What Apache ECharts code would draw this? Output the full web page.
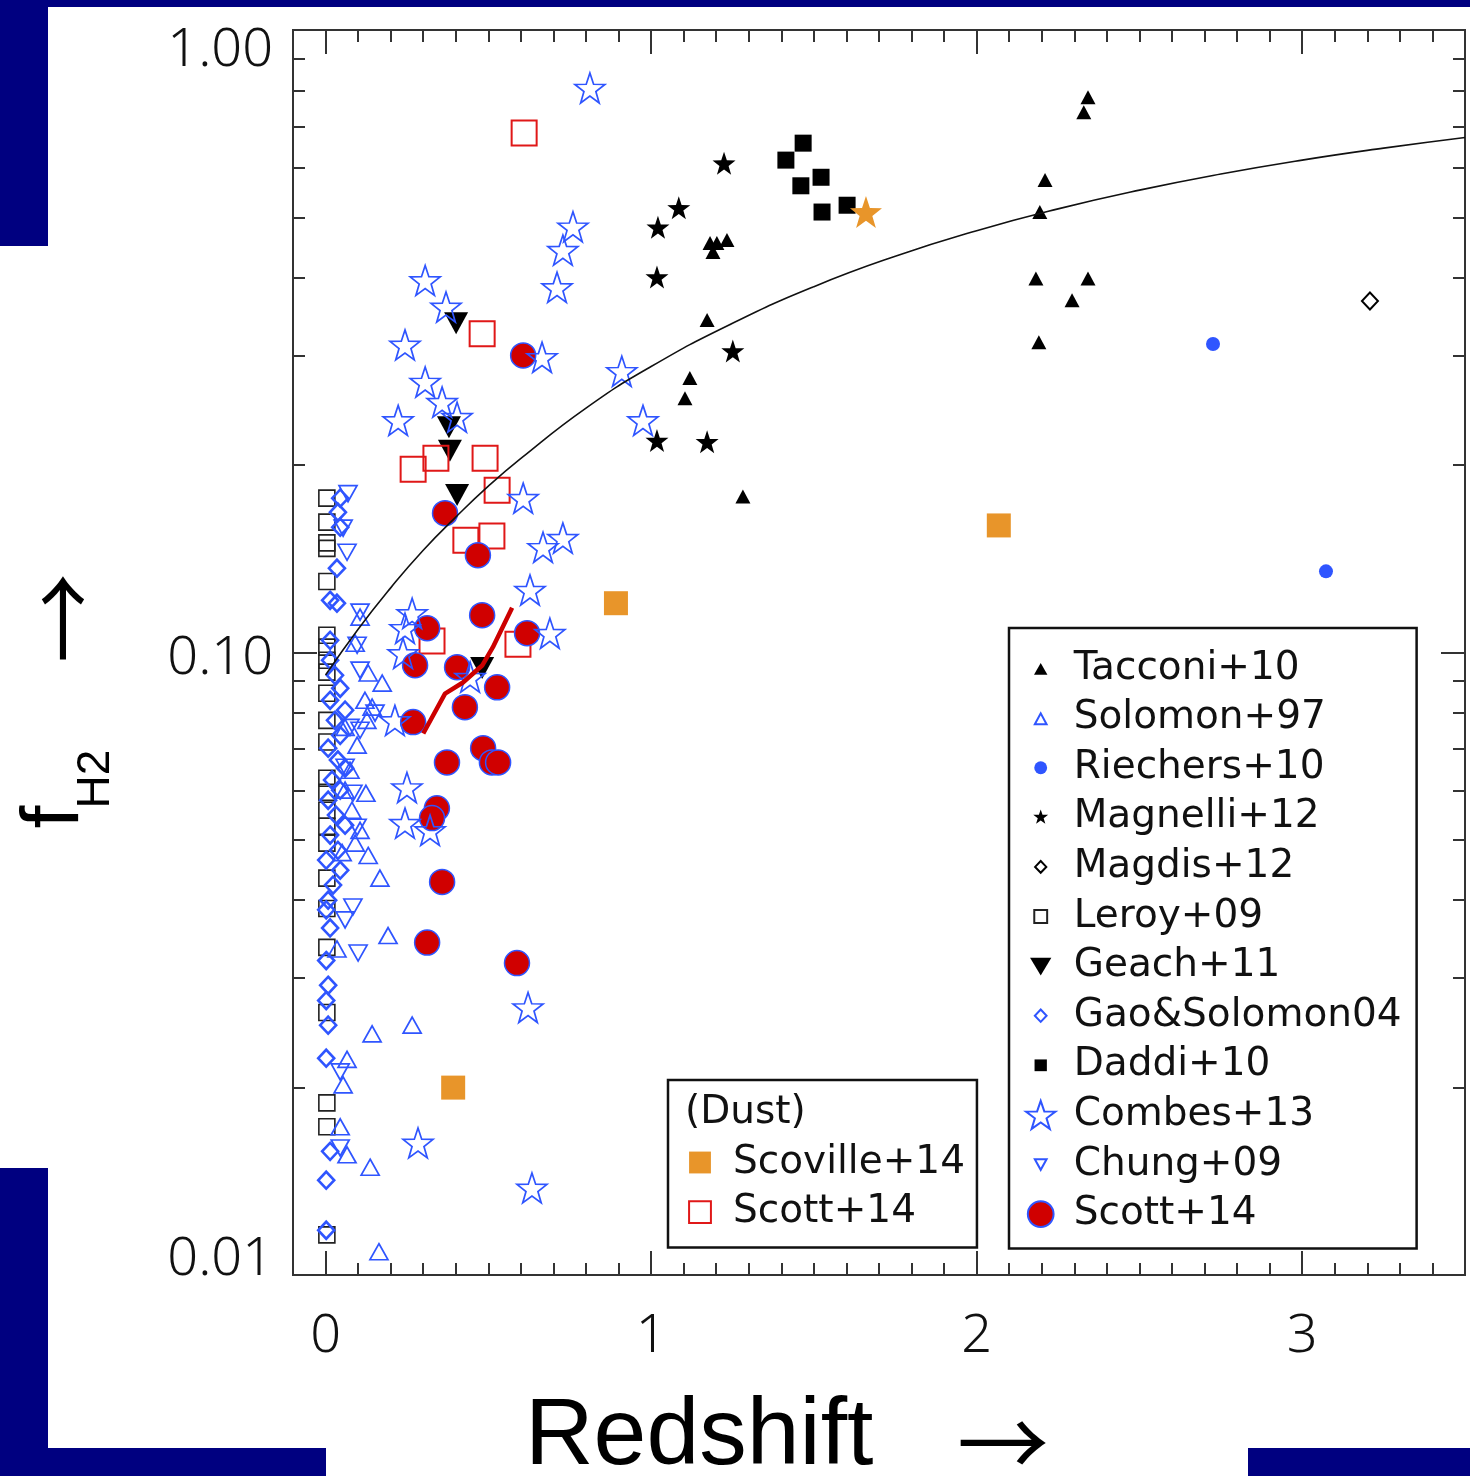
<!DOCTYPE html>
<html><head><meta charset="utf-8">
<script src="https://cdn.jsdelivr.net/npm/echarts@6/dist/echarts.min.js"></script>
<style>html,body{margin:0;padding:0;background:#fff}#c{width:1470px;height:1476px}</style>
</head><body><div id="c"></div>
<script>
// ---------------- DATA (redshift z, f_H2) ----------------
const tacconi = [[2.342,0.780],[2.329,0.738],[2.210,0.574],[2.194,0.510],[2.182,0.399],[2.342,0.399],[2.293,0.368],[2.191,0.315],[1.181,0.455],[1.202,0.455],[1.233,0.460],[1.190,0.440],[1.172,0.342],[1.119,0.276],[1.104,0.256],[1.282,0.178]];
const solomon = [[0.106,0.114],[0.091,0.1035],[0.131,0.0927],[0.174,0.0893],[0.121,0.0838],[0.143,0.0817],[0.127,0.0778],[0.060,0.0758],[0.097,0.0710],[0.075,0.0647],[0.060,0.0601],[0.124,0.0594],[0.081,0.0558],[0.106,0.0518],[0.091,0.0494],[0.051,0.0477],[0.131,0.0472],[0.167,0.0434],[0.192,0.0351],[0.035,0.0334],[0.266,0.0252],[0.143,0.0244],[0.066,0.0222],[0.054,0.0202],[0.045,0.0173],[0.066,0.0156],[0.137,0.0149],[0.164,0.0109]];
const riechers = [[2.726,0.313],[3.073,0.135]];
const magnelli = [[1.224,0.611],[1.085,0.518],[1.021,0.482],[1.018,0.401],[1.251,0.305],[1.018,0.219],[1.172,0.218]];
const magdis = [[3.208,0.367]];
const leroy = [[0.004,0.177],[0.004,0.162],[0.004,0.150],[0.004,0.147],[0.004,0.130],[0.004,0.1066],[0.004,0.102],[0.004,0.0972],[0.004,0.0930],[0.004,0.0860],[0.004,0.0778],[0.004,0.0718],[0.004,0.0628],[0.004,0.0596],[0.004,0.0558],[0.004,0.0526],[0.004,0.0494],[0.004,0.0434],[0.004,0.0388],[0.004,0.0336],[0.004,0.0264],[0.004,0.0189],[0.004,0.0173],[0.004,0.0116]];
const geach = [[0.401,0.338],[0.379,0.230],[0.382,0.211],[0.404,0.179],[0.481,0.0944]];
const gao = [[0.045,0.177],[0.038,0.168],[0.045,0.159],[0.035,0.1366],[0.014,0.1213],[0.035,0.120],[0.014,0.1046],[0.014,0.0972],[0.029,0.0919],[0.045,0.0876],[0.014,0.0838],[0.060,0.0808],[0.029,0.0778],[0.045,0.0736],[0.008,0.0702],[0.038,0.0672],[0.060,0.0652],[0.020,0.0624],[0.045,0.0601],[0.008,0.0579],[0.032,0.0548],[0.060,0.0528],[0.014,0.0509],[0.038,0.0481],[0.002,0.0464],[0.045,0.0447],[0.023,0.0423],[0.008,0.0400],[0.002,0.0386],[0.014,0.0361],[0.002,0.0320],[0.008,0.0292],[0.002,0.0276],[0.008,0.0252],[0.002,0.0223],[0.014,0.0158],[0.002,0.0142],[0.002,0.0118]];
const daddi = [[1.467,0.658],[1.414,0.618],[1.522,0.580],[1.460,0.562],[1.525,0.510],[1.602,0.523]];
const combes = [[0.812,0.807],[0.760,0.483],[0.729,0.443],[0.711,0.386],[0.306,0.396],[0.370,0.359],[0.244,0.312],[0.665,0.298],[0.306,0.272],[0.358,0.2525],[0.404,0.2388],[0.223,0.236],[0.910,0.283],[0.975,0.236],[0.607,0.177],[0.668,0.1476],[0.729,0.1527],[0.628,0.126],[0.689,0.1074],[0.266,0.1156],[0.244,0.1094],[0.238,0.0997],[0.444,0.0913],[0.213,0.0778],[0.250,0.0607],[0.244,0.0532],[0.321,0.0518],[0.622,0.0269],[0.284,0.0163],[0.634,0.0138]];
const chung = [[0.069,0.180],[0.054,0.1584],[0.066,0.1449],[0.106,0.1161],[0.097,0.1027],[0.106,0.0937],[0.152,0.0799],[0.075,0.0758],[0.106,0.0750],[0.060,0.0654],[0.084,0.0594],[0.097,0.0524],[0.084,0.0390],[0.060,0.0372],[0.100,0.0329],[0.045,0.0212],[0.045,0.0160]];
const scott = [[0.607,0.300],[0.367,0.1674],[0.468,0.1433],[0.481,0.1148],[0.312,0.1094],[0.619,0.1074],[0.275,0.0954],[0.404,0.0947],[0.527,0.0879],[0.428,0.0817],[0.269,0.0773],[0.484,0.0702],[0.373,0.0666],[0.511,0.0666],[0.530,0.0666],[0.342,0.0562],[0.327,0.0542],[0.358,0.0428],[0.312,0.0342],[0.588,0.0317]];
const scottDust = [[0.610,0.683],[0.481,0.325],[0.339,0.2052],[0.269,0.197],[0.490,0.2052],[0.527,0.1823],[0.431,0.1515],[0.511,0.1538],[0.327,0.1043],[0.591,0.1031]];
const scoville = [[0.892,0.120],[2.068,0.160],[0.392,0.0200]];
const scovilleStar = [[1.660,0.510]];
// model curve
const modelZ = [0,0.1,0.2,0.3,0.4,0.5,0.6,0.8,1.0,1.25,1.5,1.75,2.0,2.25,2.5,2.75,3.0,3.25,3.5];
const modelF = [0.092,0.109,0.127,0.146,0.165,0.185,0.205,0.247,0.288,0.338,0.387,0.433,0.476,0.516,0.553,0.587,0.618,0.646,0.672];
// Scott+14 running median (red line)
const medianZ = [0.300,0.367,0.422,0.481,0.514,0.573];
const medianF = [0.0741,0.0859,0.0895,0.0953,0.102,0.118];
// ticks
const xMajorTicks = [0,1,2,3];
const xMinorStep = 0.1;
const yMajorTicks = [0.01,0.1,1];
const yMinorFactors = [2,3,4,5,6,7,8,9];
const yDecades = [-2,-1];

// ---------------- helpers ----------------
const BLUE = '#2f55ff', RED = '#d00000', ORANGE = '#e8952a', BLACK = '#000';
const BOX = 'M0,0M100,100';
const STAR = 'M50,4L61.2,36.6L95.6,37.2L68.1,57.9L78.2,90.8L50,71L21.8,90.8L31.9,57.9L4.4,37.2L38.8,36.6Z';
const DOWN = 'M0,0L100,0L50,88Z';
const xMinorTicks = [];
for (let i = 1; i < 35; i++) { if (i % 10 !== 0) xMinorTicks.push(+(i * xMinorStep).toFixed(2)); }
const yMinorLog = [];
yDecades.forEach(d => yMinorFactors.forEach(k => yMinorLog.push(d + Math.log10(k))));
const yMajorLog = yMajorTicks.map(v => Math.round(Math.log10(v)));

const G = {left:293, top:30, right:5, bottom:201};
const tickLine = {color:'#333', width:2};
const noLine = {show:false, onZero:false};

function scat(name, data, symbol, size, itemStyle, z) {
  return {type:'scatter', name, data, symbol, symbolSize:size, itemStyle:Object.assign({opacity:1}, itemStyle),
    xAxisIndex:0, yAxisIndex:0, silent:true, z:z||2, emphasis:{disabled:true}, animation:false};
}
const open = c => ({color:'rgba(255,255,255,0)', borderColor:c, borderWidth:1.7});

function helperX(grid, pos, ticks, len) {
  return {type:'value', gridIndex:grid, position:pos, min:-0.1, max:3.5,
    axisLine:noLine, splitLine:{show:false}, axisLabel:{show:false},
    axisTick:{show:true, inside:true, length:len, customValues:ticks, lineStyle:tickLine}};
}
function helperY(grid, pos, ticks, len) {
  return {type:'value', gridIndex:grid, position:pos, min:-2, max:0,
    axisLine:noLine, splitLine:{show:false}, axisLabel:{show:false},
    axisTick:{show:true, inside:true, length:len, customValues:ticks, lineStyle:tickLine}};
}

const chart = echarts.init(document.getElementById('c'), null, {renderer:'canvas'});
const tickFont = {fontFamily:'"Noto Sans"', fontSize:54, fontWeight:300, color:'#111'};
const legendText = {fontFamily:'"DejaVu Sans"', fontSize:39, color:'#111', padding:[0,0,0,4]};
const ARROW_FONT = '"Noto Sans CJK SC", "DejaVu Sans"';

const option = {
  animation:false,
  backgroundColor:'#fff',
  grid:[0,1,2,3].map(i => Object.assign({containLabel:false, outerBoundsMode:'none', show:i===0,
    borderColor:'#333', borderWidth:2, backgroundColor:'rgba(0,0,0,0)'}, G)),
  xAxis:[
    {type:'value', gridIndex:0, position:'bottom', min:-0.1, max:3.5,
     axisLine:noLine, splitLine:{show:false},
     axisTick:{show:true, inside:true, length:24, customValues:xMajorTicks, lineStyle:tickLine},
     axisLabel:Object.assign({customValues:xMajorTicks, margin:35, formatter:v => String(Math.round(v))}, tickFont)},
    helperX(1,'bottom',xMinorTicks,12),
    helperX(2,'top',xMajorTicks,24),
    helperX(3,'top',xMinorTicks,12)
  ],
  yAxis:[
    {type:'log', logBase:10, gridIndex:0, position:'left', min:0.01, max:1,
     axisLine:noLine, splitLine:{show:false}, minorTick:{show:false},
     axisTick:{show:true, inside:true, length:24, lineStyle:tickLine},
     axisLabel:{margin:20, formatter:v => {
        const e = Math.round(Math.log10(v));
        const s = Math.pow(10, e).toFixed(2);
        return e === 0 ? '{t|' + s + '}' : e === -1 ? '{m|' + s + '}' : '{b|' + s + '}';
      },
      rich:{
        t:Object.assign({padding:[42,0,0,0]}, tickFont),
        m:Object.assign({padding:[12,0,0,0]}, tickFont),
        b:Object.assign({padding:[0,0,30,0]}, tickFont)
      }}},
    helperY(1,'left',yMinorLog,12),
    helperY(2,'right',yMajorLog,24),
    helperY(3,'right',yMinorLog,12)
  ],
  legend:[
    {selectedMode:false, orient:'vertical', left:1009, top:628,
     padding:[21,15,15,16], itemGap:10.6, itemWidth:48, itemHeight:28,
     borderColor:'#111', borderWidth:2.5, backgroundColor:'#fff',
     textStyle:legendText,
     data:[
      {name:'Tacconi+10', icon:'path://' + BOX + 'M26,72L50,30L74,72Z'},
      {name:'Solomon+97', icon:'path://' + BOX + 'M29,72L50,33L71,72Z'},
      {name:'Riechers+10', icon:'path://' + BOX + 'M27,50A23,23 0 1 1 73,50A23,23 0 1 1 27,50Z'},
      {name:'Magnelli+12', icon:'path://' + BOX + 'M50,22L56.5,41.1L76.6,41.3L60.5,53.4L66.5,72.7L50,61L33.5,72.7L39.5,53.4L23.4,41.3L43.5,41.1Z'},
      {name:'Magdis+12', icon:'path://' + BOX + 'M50,29L70,50L50,71L30,50Z'},
      {name:'Leroy+09', icon:'path://' + BOX + 'M27,27L73,27L73,73L27,73Z'},
      {name:'Geach+11', icon:'path://' + BOX + 'M12,20L88,20L50,84Z'},
      {name:'Gao&Solomon04', icon:'path://' + BOX + 'M50,28L71,50L50,72L29,50Z'},
      {name:'Daddi+10', icon:'path://' + BOX + 'M28,29L72,29L72,71L28,71Z'},
      {name:'Combes+13', icon:'path://' + STAR},
      {name:'Chung+09', icon:'path://' + BOX + 'M29,31L71,31L50,69Z'},
      {name:'Scott+14', icon:'path://' + BOX + 'M4,50A46,46 0 1 1 96,50A46,46 0 1 1 4,50Z'}
     ]},
    {selectedMode:false, orient:'vertical', left:668, top:1080,
     padding:[63,12,16,17], itemGap:10.6, itemWidth:48, itemHeight:28,
     borderColor:'#111', borderWidth:2.5, backgroundColor:'#fff',
     textStyle:legendText,
     formatter:n => n.replace(' (dust)',''),
     data:[
      {name:'Scoville+14', icon:'path://' + BOX + 'M11,11L89,11L89,89L11,89Z'},
      {name:'Scott+14 (dust)', icon:'path://' + BOX + 'M11,11L89,11L89,89L11,89Z'}
     ]}
  ],
  series:[
    scat('Leroy+09', leroy, 'rect', 16, {color:'rgba(255,255,255,0)', borderColor:'#222', borderWidth:1.6}),
    scat('Solomon+97', solomon, 'triangle', [18,16], open(BLUE)),
    scat('Chung+09', chung, 'path://' + DOWN, [18,16], open(BLUE)),
    scat('Gao&Solomon04', gao, 'diamond', [16,17], {color:'rgba(255,255,255,0)', borderColor:BLUE, borderWidth:2.6}),
    scat('Tacconi+10', tacconi, 'triangle', [15,14], {color:BLACK}),
    scat('Magnelli+12', magnelli, 'path://' + STAR, 23, {color:BLACK}),
    scat('Daddi+10', daddi, 'rect', 17, {color:BLACK}),
    scat('Geach+11', geach, 'path://' + DOWN, [24,22], {color:BLACK}),
    scat('Riechers+10', riechers, 'circle', 14, {color:BLUE}),
    scat('Magdis+12', magdis, 'diamond', [16,17], {color:'rgba(255,255,255,0)', borderColor:BLACK, borderWidth:2}),
    scat('Scott+14 (dust)', scottDust, 'rect', 25, {color:'rgba(255,255,255,0)', borderColor:'#e01818', borderWidth:2}),
    scat('Scoville+14', scoville, 'rect', 24, {color:ORANGE}),
    scat('Scoville+14 star', scovilleStar, 'path://' + STAR, 32, {color:ORANGE}),
    scat('Scott+14', scott, 'circle', 25, {color:RED, borderColor:BLUE, borderWidth:1.5}),
    scat('Combes+13', combes, 'path://' + STAR, 30, open(BLUE)),
    {type:'line', name:'model', data:modelZ.map((z,i)=>[z, modelF[i]]), smooth:true, showSymbol:false,
     xAxisIndex:0, yAxisIndex:0, silent:true, lineStyle:{color:'#111', width:1.6}, z:3},
    {type:'line', name:'median', data:medianZ.map((z,i)=>[z, medianF[i]]), showSymbol:false,
     xAxisIndex:0, yAxisIndex:0, silent:true, lineStyle:{color:'#cc0000', width:4.5}, z:4}
  ],
  graphic:[
    {type:'rect', shape:{x:0,y:0,width:1470,height:7}, style:{fill:'#000080'}, silent:true},
    {type:'rect', shape:{x:0,y:0,width:48,height:246}, style:{fill:'#000080'}, silent:true},
    {type:'rect', shape:{x:0,y:1168,width:48,height:308}, style:{fill:'#000080'}, silent:true},
    {type:'rect', shape:{x:0,y:1448,width:326,height:28}, style:{fill:'#000080'}, silent:true},
    {type:'rect', shape:{x:1248,y:1448,width:222,height:28}, style:{fill:'#000080'}, silent:true},
    {type:'text', x:525, y:1438, silent:true, style:{text:'Redshift', font:'95px "Liberation Sans"', fill:'#000', textAlign:'left', textVerticalAlign:'middle'}},
    {type:'text', x:1003, y:1443, silent:true, style:{text:'\u2192', font:'92px ' + ARROW_FONT, fill:'#000', textAlign:'center', textVerticalAlign:'middle'}},
    {type:'text', x:55, y:817, rotation:Math.PI/2, silent:true, style:{text:'f', font:'82px "Liberation Sans"', fill:'#000', textAlign:'center', textVerticalAlign:'middle'}},
    {type:'text', x:96, y:779, rotation:Math.PI/2, silent:true, style:{text:'H2', font:'46px "Liberation Sans"', fill:'#000', textAlign:'center', textVerticalAlign:'middle'}},
    {type:'text', x:63, y:618, rotation:Math.PI/2, silent:true, style:{text:'\u2192', font:'90px ' + ARROW_FONT, fill:'#000', textAlign:'center', textVerticalAlign:'middle'}},
    {type:'text', x:685, y:1113, silent:true, z:100, style:{text:'(Dust)', font:'39px "DejaVu Sans"', fill:'#111', textAlign:'left', textVerticalAlign:'middle'}}
  ]
};
chart.setOption(option);
</script>
</body></html>
